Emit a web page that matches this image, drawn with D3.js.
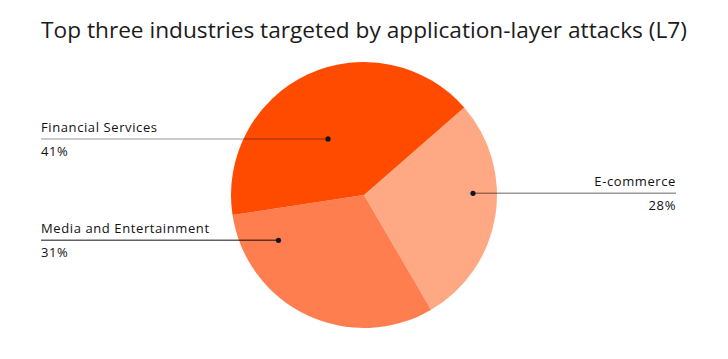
<!DOCTYPE html>
<html lang="en">
<head>
<meta charset="utf-8">
<title>Top three industries targeted by application-layer attacks (L7)</title>
<script src="https://d3js.org/d3.v7.min.js"></script>
<style>
  body { margin: 0; background: #fff; }
  svg text { font-family: "Open Sans", sans-serif; fill: #111; }
  .lbl { letter-spacing: 0.6px; }
</style>
</head>
<body>
<svg id="chart"></svg>
<script>
// data
var categories = ["E-commerce", "Media and Entertainment", "Financial Services"];
var shares = [28, 31, 41];
var shareLabels = ["28%", "31%", "41%"];
var colors = ["#FFA984", "#FF7E50", "#FF4B00"];

var w = 728, h = 359;
var cx = 364, cy = 195, r = 133;

var svg = d3.select("#chart").attr("width", w).attr("height", h);

// title, shrunk/grown so it spans like the original
var title = svg.append("text")
  .attr("x", cx).attr("y", 38)
  .attr("text-anchor", "middle")
  .attr("font-size", 22)
  .style("fill", "#1b1b1b")
  .text("Top three industries targeted by application-layer attacks (L7)");
var tw = title.node().getComputedTextLength();
title.attr("font-size", 22 * 646 / tw);

var pie = d3.pie().sort(null).value(function(d) { return d; })
  .startAngle(48.9 * Math.PI / 180)
  .endAngle(48.9 * Math.PI / 180 + 2 * Math.PI);
var arcs = pie(shares);
var arc = d3.arc().innerRadius(0).outerRadius(r);

var g = svg.append("g").attr("transform", "translate(" + cx + "," + cy + ")");
g.selectAll("path")
  .data(arcs)
  .enter()
  .append("path")
  .attr("d", arc)
  .attr("fill", function(d, i) { return colors[i]; });

// label anchors (angle clockwise from top, distance from centre) and side
var anchors = [
  { a: 89.1, d: 109, side: "right", op: 0.4 },
  { a: 242.1, d: 96.8, side: "left", op: 0.62 },
  { a: 327.3, d: 66.6, side: "left", op: 0.28 }
];

anchors.forEach(function(p, i) {
  var rad = p.a * Math.PI / 180;
  var x = cx + p.d * Math.sin(rad);
  var y = cy - p.d * Math.cos(rad);
  var xEnd = p.side === "left" ? 41 : 676;
  var anchor = p.side === "left" ? "start" : "end";

  svg.append("line")
    .attr("x1", xEnd).attr("x2", x)
    .attr("y1", y).attr("y2", y)
    .attr("stroke", "#000")
    .attr("stroke-opacity", p.op)
    .attr("stroke-width", 1.5);

  svg.append("circle")
    .attr("cx", x).attr("cy", y).attr("r", 2.6)
    .attr("fill", "#0d1626");

  svg.append("text")
    .attr("class", "lbl")
    .attr("x", xEnd).attr("y", y - 7)
    .attr("text-anchor", anchor)
    .attr("font-size", 13)
    .text(categories[i]);

  svg.append("text")
    .attr("class", "lbl")
    .attr("x", xEnd).attr("y", y + 17)
    .attr("text-anchor", anchor)
    .attr("font-size", 13)
    .text(shareLabels[i]);
});
</script>
</body>
</html>
